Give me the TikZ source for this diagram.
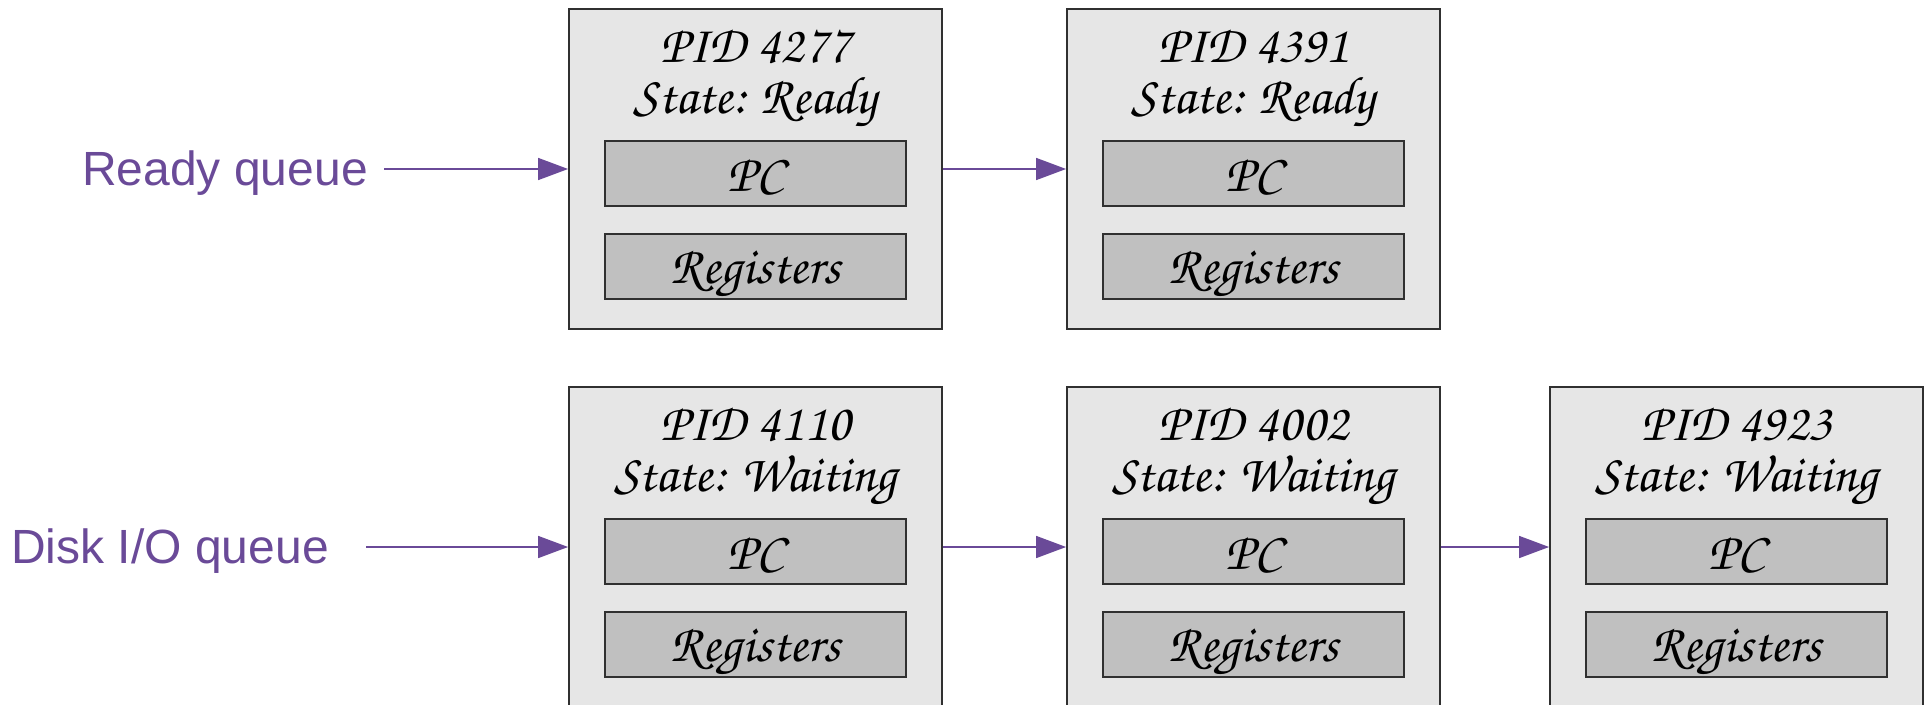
\documentclass[tikz,border=0pt]{standalone}
\usepackage[T1]{fontenc}
\usepackage{fontspec}
\setmainfont{Liberation Sans}
\usetikzlibrary{arrows.meta}

\definecolor{qpurple}{HTML}{6A4A98}
\definecolor{pcbfill}{HTML}{E6E6E6}
\definecolor{fieldfill}{HTML}{C0C0C0}
\definecolor{pcbline}{HTML}{303030}

% calligraphic face used inside the control blocks
\newcommand\chancery{\fontencoding{T1}\fontfamily{pzc}\fontseries{mb}\fontshape{it}\fontsize{53}{55}\selectfont}

\tikzset{
  pcb/.style={draw=pcbline, fill=pcbfill, line width=1.8pt,
    minimum width=373pt, minimum height=320pt, inner sep=0pt},
  field/.style={draw=pcbline, fill=fieldfill, line width=1.8pt,
    minimum width=301pt, minimum height=65pt, inner sep=0pt,
    text height=35pt, text depth=0pt, font=\chancery},
  head/.style={font=\chancery, inner sep=0pt},
  link/.style={draw=qpurple, line width=1.5pt,
    -{Triangle[length=30pt,width=22pt]}},
  qlabel/.style={text=qpurple, font=\fontsize{48}{58}\selectfont, inner sep=0pt},
}

% one process control block: name, x, y, pid, state
\newcommand\pcbnode[5]{%
  \node[pcb] (#1) at (#2,#3) {};
  \node[head, anchor=base] (#1-pid) at ([yshift=-54pt]#1.north) {PID #4};
  \node[head, anchor=base] (#1-state) at ([yshift=-105pt]#1.north) {State: #5};
  \node[field] (#1-pc) at ([yshift=-165.5pt]#1.north) {PC};
  \node[field] (#1-reg) at ([yshift=-258pt]#1.north) {Registers};
}

\begin{document}
\begin{tikzpicture}[x=1pt, y=-1pt]
  \useasboundingbox (0,0) rectangle (1926,704);
  \clip (0,0) rectangle (1926,704);

  % ready queue
  \node[qlabel, anchor=base east] (readyq) at (368,185) {Ready queue};
  \coordinate (readyq-out) at (384,169);
  \pcbnode{p4277}{755.5}{169}{4277}{Ready}
  \pcbnode{p4391}{1253.5}{169}{4391}{Ready}
  \draw[link] (readyq-out) -- (p4277.west);
  \draw[link] (p4277.east) -- (p4391.west);

  % disk I/O queue
  \node[qlabel, anchor=base east] (diskq) at (329,563) {Disk I/O queue};
  \coordinate (diskq-out) at (366,547);
  \pcbnode{p4110}{755.5}{547}{4110}{Waiting}
  \pcbnode{p4002}{1253.5}{547}{4002}{Waiting}
  \pcbnode{p4923}{1736.5}{547}{4923}{Waiting}
  \draw[link] (diskq-out) -- (p4110.west);
  \draw[link] (p4110.east) -- (p4002.west);
  \draw[link] (p4002.east) -- (p4923.west);
\end{tikzpicture}
\end{document}
